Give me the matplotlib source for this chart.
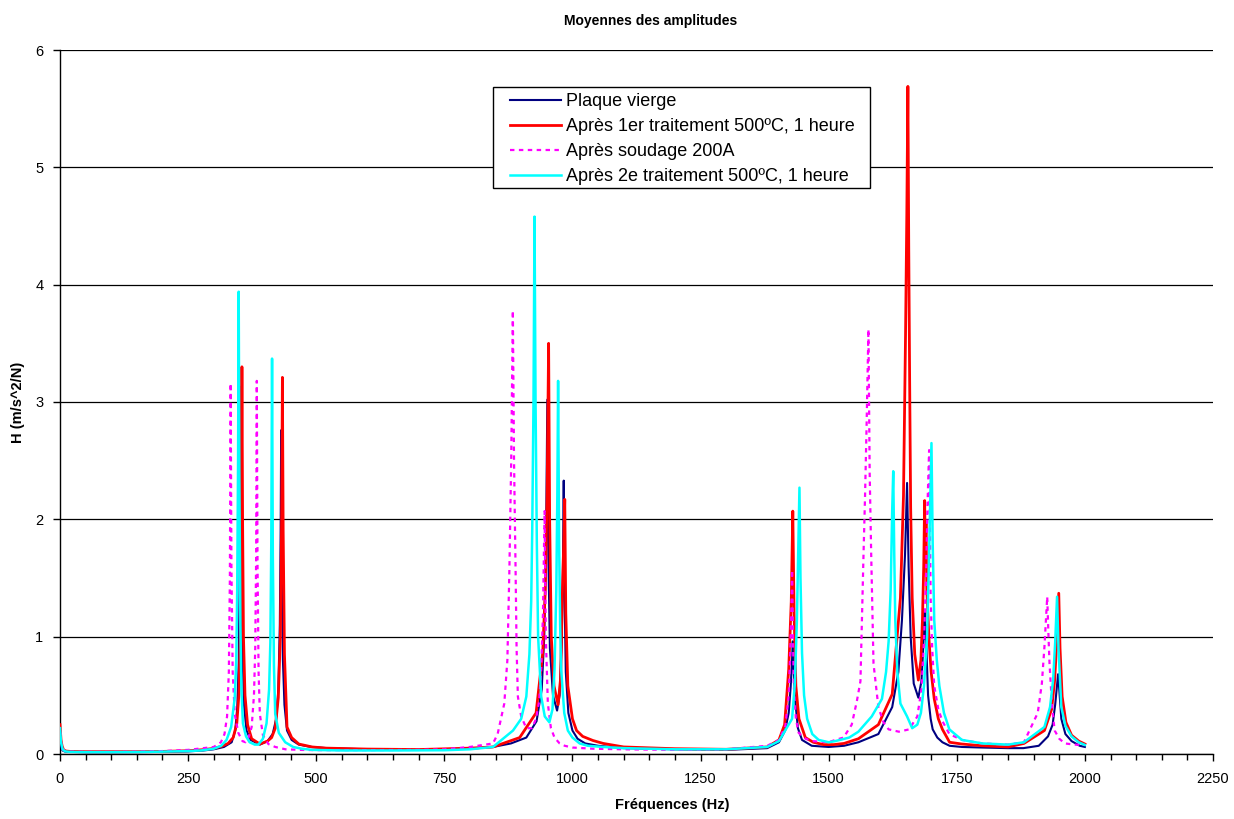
import matplotlib
matplotlib.use("Agg")
import matplotlib.pyplot as plt
from matplotlib.ticker import MultipleLocator
from matplotlib.legend_handler import HandlerLine2D
from matplotlib.patches import Rectangle

plt.rcParams['font.family'] = ['Liberation Sans', 'DejaVu Sans']

title = "Moyennes des amplitudes"
xlabel = "Fréquences (Hz)"
ylabel = "H (m/s^2/N)"
labels = ["Plaque vierge",
          "Après 1er traitement 500ºC, 1 heure",
          "Après soudage 200A",
          "Après 2e traitement 500ºC, 1 heure"]

# --- Plaque vierge ---
f_vierge = [0, 2, 5, 10, 20, 50, 100, 150, 200, 250, 280, 300, 320, 335, 342, 346, 349, 351, 352.6, 354, 356, 359, 364, 372, 390,
            405, 415, 422, 426, 429, 430.6, 431.6, 433, 435, 438, 443, 452, 466, 490, 520, 600, 700, 800, 845, 880, 910, 930, 940,
            945, 948.5, 951, 953, 956, 962, 970, 975, 979, 981.5, 983, 984.5, 987, 992, 1000, 1010, 1025, 1050, 1100, 1200, 1300,
            1380, 1403, 1415, 1422, 1426, 1428.5, 1430, 1432, 1435, 1440, 1448, 1467, 1500, 1530, 1558, 1597, 1624, 1636, 1643,
            1649, 1653, 1656, 1660, 1666, 1675, 1681, 1684.5, 1687, 1688.3, 1689.5, 1691.5, 1694, 1699, 1703, 1712, 1722, 1736,
            1760, 1800, 1850, 1880, 1910, 1928, 1937, 1942, 1945.5, 1947.7, 1950, 1954, 1962, 1974, 1990, 2000]
a_vierge = [0.12, 0.06, 0.03, 0.02, 0.018, 0.015, 0.015, 0.016, 0.018, 0.022, 0.03, 0.04, 0.06, 0.10, 0.20, 0.40, 0.80, 1.70, 3.13, 1.80, 0.90, 0.42, 0.20, 0.12, 0.08,
            0.11, 0.17, 0.30, 0.55, 1.10, 1.90, 2.76, 1.60, 0.80, 0.42, 0.20, 0.12, 0.08, 0.06, 0.05, 0.04, 0.035, 0.045, 0.06, 0.09, 0.14, 0.28, 0.55,
            1.00, 1.80, 3.02, 1.70, 0.90, 0.50, 0.37, 0.50, 0.95, 1.60, 2.33, 1.40, 0.70, 0.35, 0.20, 0.13, 0.09, 0.07, 0.05, 0.04, 0.035,
            0.05, 0.10, 0.20, 0.35, 0.58, 0.80, 0.96, 0.70, 0.44, 0.22, 0.12, 0.07, 0.06, 0.07, 0.10, 0.17, 0.40, 0.70, 1.14,
            1.70, 2.31, 1.60, 1.00, 0.60, 0.48, 0.62, 0.90, 1.21, 0.98, 1.10, 0.80, 0.50, 0.30, 0.21, 0.14, 0.10, 0.07,
            0.06, 0.055, 0.05, 0.05, 0.07, 0.15, 0.25, 0.42, 0.58, 0.68, 0.55, 0.30, 0.17, 0.11, 0.07, 0.06]

# --- Après 1er traitement ---
f_trait1 = [0, 2, 4, 7, 12, 20, 50, 100, 150, 200, 250, 280, 300, 315, 328, 338, 345, 349, 352, 353.8, 355, 356.3, 358, 361, 366,
            374, 390, 405, 413, 420, 426, 430, 432.5, 434, 435.5, 438, 443, 452, 466, 492, 520, 600, 700, 800, 845, 897, 929, 942,
            947, 950.5, 953.5, 955.5, 958.7, 964, 972, 977, 980, 983, 985, 987, 991, 1000, 1008, 1020, 1040, 1060, 1100, 1200,
            1300, 1380, 1403, 1414, 1422, 1427, 1430, 1432.5, 1436, 1442, 1454.5, 1470, 1490, 1510, 1530, 1558, 1597, 1624, 1640,
            1646, 1650, 1652.5, 1654.6, 1656.3, 1658, 1660, 1663, 1668, 1675, 1680, 1683, 1685.5, 1687.3, 1688.5, 1690, 1691.5,
            1696, 1700, 1706, 1714, 1722, 1736, 1760, 1800, 1850, 1881, 1921, 1935, 1941, 1945, 1949, 1951.5, 1955.6, 1963, 1974,
            1988, 2000]
a_trait1 = [0.25, 0.12, 0.07, 0.035, 0.025, 0.022, 0.02, 0.02, 0.02, 0.022, 0.028, 0.037, 0.048, 0.065, 0.09, 0.14, 0.26, 0.50, 1.05, 2.00, 3.30, 2.00, 1.00, 0.50, 0.25,
            0.13, 0.085, 0.11, 0.14, 0.22, 0.48, 1.00, 2.00, 3.21, 1.90, 0.85, 0.23, 0.14, 0.085, 0.06, 0.05, 0.042, 0.038, 0.05, 0.06, 0.14, 0.35, 0.86,
            1.40, 2.20, 3.50, 2.00, 1.00, 0.58, 0.42, 0.65, 1.30, 1.80, 2.17, 1.20, 0.58, 0.30, 0.20, 0.15, 0.115, 0.09, 0.06, 0.045,
            0.04, 0.06, 0.12, 0.25, 0.72, 1.30, 2.07, 1.20, 0.58, 0.30, 0.14, 0.10, 0.08, 0.08, 0.09, 0.13, 0.25, 0.51, 1.33,
            2.20, 3.57, 4.60, 5.69, 4.30, 3.20, 2.10, 1.33, 0.85, 0.63, 0.80, 1.14, 1.60, 2.16, 1.71, 1.97, 1.40,
            0.96, 0.70, 0.47, 0.30, 0.21, 0.10, 0.085, 0.07, 0.06, 0.09, 0.20, 0.38, 0.63, 0.95, 1.37, 0.90, 0.49, 0.27, 0.16,
            0.11, 0.085]

# --- Après soudage 200A ---
f_soud = [0, 2, 5, 10, 20, 50, 100, 150, 200, 250, 280, 300, 314, 321, 326, 329.5, 331.5, 333, 334.5, 337, 341, 348, 356, 362,
          368, 374, 378.5, 381, 382.8, 384, 385.5, 387.5, 390, 396, 406.6, 420, 440, 470, 500, 600, 700, 750, 800, 830, 845, 854,
          867, 873, 877, 880.5, 883.7, 886, 889, 891, 893.5, 900, 910, 921, 929, 935, 939, 942.5, 945.6, 948, 952, 958, 965,
          975, 985, 1000, 1040, 1100, 1200, 1300, 1380, 1403, 1415.6, 1422, 1425, 1427, 1428.6, 1430.5, 1432, 1436, 1441.5,
          1455, 1467.5, 1500, 1513, 1529, 1545, 1555, 1562, 1568, 1571, 1574, 1577.6, 1580, 1583, 1587.5, 1597, 1607, 1617,
          1637, 1657, 1673, 1681, 1686, 1690, 1692.6, 1696, 1699, 1702, 1706, 1714, 1722, 1735.5, 1760, 1800, 1850, 1881,
          1908, 1916, 1921, 1924, 1926.5, 1929, 1931, 1936, 1941, 1950, 1961, 1980, 2000]
a_soud = [0.20, 0.10, 0.04, 0.025, 0.02, 0.018, 0.018, 0.02, 0.025, 0.035, 0.05, 0.06, 0.10, 0.17, 0.32, 0.70, 1.50, 3.16, 1.60, 0.70, 0.34, 0.18, 0.11, 0.10,
          0.14, 0.23, 0.50, 0.90, 1.70, 3.18, 1.60, 0.70, 0.34, 0.16, 0.085, 0.06, 0.04, 0.035, 0.033, 0.033, 0.035, 0.04, 0.06, 0.08, 0.09, 0.17,
          0.43, 0.80, 1.58, 2.50, 3.78, 2.50, 1.58, 0.90, 0.49, 0.32, 0.22, 0.22, 0.30, 0.45, 0.72, 1.20, 2.07, 1.00, 0.43, 0.22, 0.14,
          0.09, 0.07, 0.055, 0.045, 0.04, 0.035, 0.04, 0.07, 0.12, 0.24, 0.50, 0.86, 1.20, 1.57, 0.95, 0.58, 0.30, 0.18,
          0.13, 0.11, 0.10, 0.12, 0.14, 0.25, 0.45, 0.62, 1.70, 2.20, 2.80, 3.62, 2.40, 1.70, 0.77, 0.40, 0.27, 0.21,
          0.19, 0.21, 0.32, 0.55, 0.96, 1.50, 2.08, 2.59, 1.33, 0.90, 0.58, 0.38, 0.28, 0.17, 0.12, 0.09, 0.08, 0.10,
          0.35, 0.60, 0.91, 1.15, 1.34, 1.00, 0.77, 0.40, 0.20, 0.13, 0.09, 0.08, 0.077]

# --- Après 2e traitement ---
f_trait2 = [0, 2, 5, 10, 20, 50, 100, 150, 200, 250, 275, 300, 314.5, 325, 334, 341, 344, 345.8, 347.5, 348.7, 350, 352, 354, 357,
            363, 370, 380, 387, 396, 403, 408, 410.5, 412.3, 413.8, 415.3, 417.5, 420, 427, 439.5, 455, 472, 492, 550, 650, 750,
            800, 845, 884, 900, 910, 916, 919.5, 921.5, 924, 926, 928, 930.5, 933, 939, 946, 955, 961, 965, 968.5, 970.5, 972,
            974, 976, 978, 984, 991, 1000, 1014, 1030, 1060, 1100, 1200, 1300, 1380, 1403, 1428.6, 1434, 1438, 1441, 1443, 1445,
            1448, 1452, 1458, 1468, 1480.5, 1500, 1513, 1540, 1558, 1584, 1604, 1612, 1617, 1621, 1624, 1626, 1628, 1630, 1634,
            1640, 1653, 1663, 1673, 1680, 1686, 1692, 1696, 1698.5, 1700.6, 1703, 1706, 1711, 1716, 1725, 1735.5, 1760, 1800,
            1850, 1881, 1921, 1932, 1938, 1942, 1945.7, 1948.5, 1954, 1962, 1974, 1988, 2000]
a_trait2 = [0.22, 0.10, 0.04, 0.022, 0.018, 0.016, 0.016, 0.017, 0.02, 0.025, 0.03, 0.045, 0.07, 0.12, 0.23, 0.48, 0.80, 1.40, 2.50, 3.94, 2.40, 1.10, 0.55, 0.26,
            0.15, 0.10, 0.08, 0.08, 0.13, 0.26, 0.55, 0.95, 1.80, 3.37, 1.70, 0.75, 0.34, 0.18, 0.10, 0.06, 0.045, 0.035, 0.03, 0.03, 0.032,
            0.04, 0.06, 0.20, 0.30, 0.49, 0.85, 1.30, 1.90, 3.00, 4.58, 3.00, 1.80, 1.00, 0.49, 0.32, 0.27, 0.38, 0.72, 1.40, 2.20, 3.18,
            1.80, 1.10, 0.72, 0.35, 0.20, 0.14, 0.09, 0.07, 0.06, 0.05, 0.04, 0.04, 0.06, 0.11, 0.30, 0.60, 1.14, 1.80, 2.27, 1.50,
            0.86, 0.50, 0.30, 0.17, 0.12, 0.10, 0.11, 0.14, 0.19, 0.32, 0.47, 0.70, 0.96, 1.40, 2.08, 2.41, 1.70, 1.14, 0.70,
            0.43, 0.32, 0.22, 0.25, 0.35, 0.58, 1.00, 1.70, 2.20, 2.65, 1.80, 1.14, 0.80, 0.58, 0.35, 0.21, 0.12, 0.09,
            0.08, 0.10, 0.23, 0.40, 0.63, 0.95, 1.34, 0.90, 0.40, 0.24, 0.15, 0.10, 0.077]

x_ticks = [0, 250, 500, 750, 1000, 1250, 1500, 1750, 2000, 2250]
y_ticks = [0, 1, 2, 3, 4, 5, 6]


class OffsetLineHandler(HandlerLine2D):
    """Legend line that starts a little inside the handle box (Excel-like)."""
    def __init__(self, offset_pt, **kw):
        super().__init__(**kw)
        self._offset_pt = offset_pt

    def get_xdata(self, legend, xdescent, ydescent, width, height, fontsize):
        xd = [-xdescent + self._offset_pt, -xdescent + width]
        return xd, xd


W, H = 1234, 819
fig = plt.figure(figsize=(W / 100, H / 100), dpi=100)
ax = fig.add_axes([60 / W, 1 - 754 / H, 1153 / W, 704 / H])


def ax_x(px):
    return (px - 60) / 1153


def ax_y(py):
    return (754 - py) / 704


l1, = ax.plot(f_vierge, a_vierge, color='#000080', lw=1.5, label=labels[0], zorder=3)
l2, = ax.plot(f_trait1, a_trait1, color='#FF0000', lw=2.0, label=labels[1], zorder=4)
l3, = ax.plot(f_soud, a_soud, color='#FF00FF', lw=1.6, linestyle=(0, (2, 2)), label=labels[2], zorder=5)
l4, = ax.plot(f_trait2, a_trait2, color='#00FFFF', lw=1.8, label=labels[3], zorder=6)

ax.set_xlim(0, 2250)
ax.set_ylim(0, 6)
ax.set_xticks(x_ticks)
ax.set_yticks(y_ticks)
ax.xaxis.set_minor_locator(MultipleLocator(50))
ax.tick_params(axis='both', which='major', direction='out', length=5, width=1, labelsize=10.5, colors='black')
ax.tick_params(axis='x', which='major', pad=8)
ax.tick_params(axis='y', which='major', pad=7)
ax.tick_params(axis='x', which='minor', direction='out', length=4, width=1)
ax.yaxis.grid(True, color='black', lw=0.9)
ax.set_axisbelow(True)
for s in ['top', 'right']:
    ax.spines[s].set_visible(False)
for s in ['left', 'bottom']:
    ax.spines[s].set_color('black')
    ax.spines[s].set_linewidth(1.0)
ax.spines['bottom'].set_zorder(10)

fig.text(651 / W, 1 - 21 / H, title, fontsize=10, fontweight='bold', ha='center', va='center')
ax.set_xlabel(xlabel, fontsize=10.5, fontweight='bold', va='center')
ax.xaxis.set_label_coords(ax_x(672), ax_y(805))
ax.set_ylabel(ylabel, fontsize=10.5, fontweight='bold', va='center')
ax.yaxis.set_label_coords(ax_x(18), 0.5)

# legend frame (Excel-style box)
frame = Rectangle((ax_x(493), ax_y(188)), ax_x(870) - ax_x(493), ax_y(87) - ax_y(188),
                  transform=ax.transAxes, facecolor='white', edgecolor='black', lw=1.0, zorder=19)
ax.add_patch(frame)

handler = OffsetLineHandler(offset_pt=9.9)
leg = ax.legend(handles=[l1, l2, l3, l4], loc='upper left', bbox_to_anchor=(ax_x(493), ax_y(89.7)), borderaxespad=0,
                fontsize=13, frameon=False,
                handlelength=3.58, handletextpad=0.28, labelspacing=0.447, borderpad=0.18,
                handler_map={l: handler for l in [l1, l2, l3, l4]})
leg.set_zorder(20)

fig.savefig("out.png", dpi=100)
